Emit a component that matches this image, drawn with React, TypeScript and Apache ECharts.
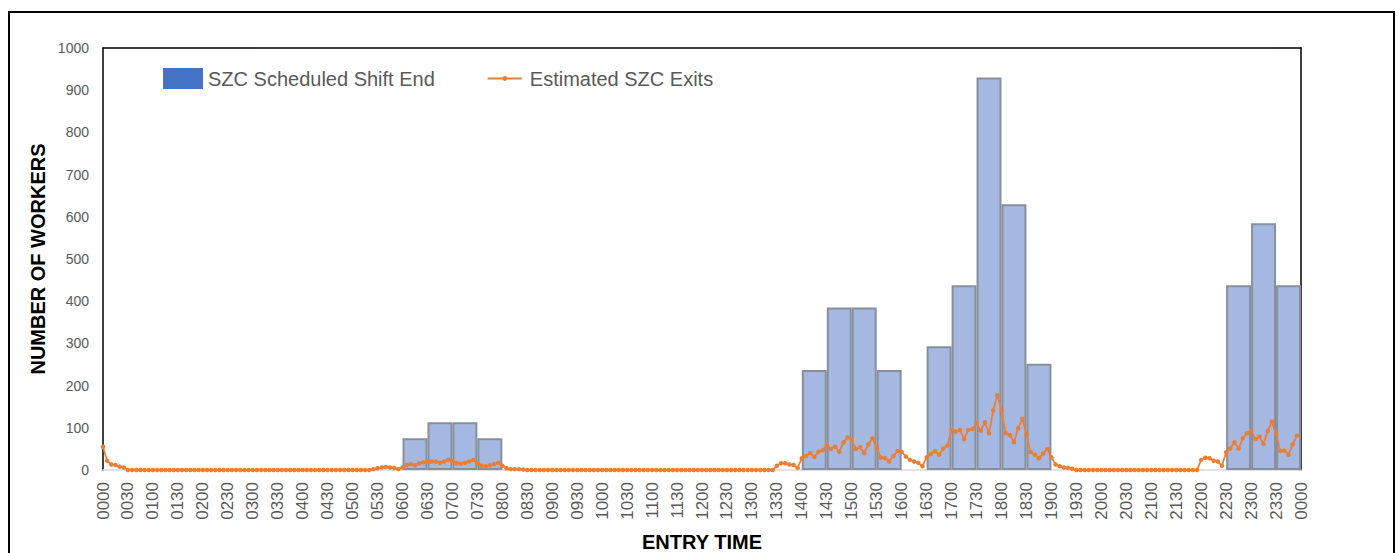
import React, { useEffect, useRef } from "react";
import * as echarts from "echarts";

const tickLabels = [
  "0000", "0030", "0100", "0130", "0200", "0230", "0300", "0330", "0400", "0430",
  "0500", "0530", "0600", "0630", "0700", "0730", "0800", "0830", "0900", "0930",
  "1000", "1030", "1100", "1130", "1200", "1230", "1300", "1330", "1400", "1430",
  "1500", "1530", "1600", "1630", "1700", "1730", "1800", "1830", "1900", "1930",
  "2000", "2030", "2100", "2130", "2200", "2230", "2300", "2330", "0000",
];

const slotLabels = tickLabels.slice(0, 48);

const scheduledShiftEnd: (number | null)[] = [
  null, null, null, null, null, null, null, null, null, null, null, null,
  75, 113, 113, 75, null, null, null, null, null, null, null, null,
  null, null, null, null, 237, 385, 385, 237, null, 293, 438, 930,
  630, 252, null, null, null, null, null, null, null, 438, 585, 438,
];

// one row per hour, 5-minute steps
const estimatedExits = [
  55, 22, 13, 12, 8, 6, 0, 0, 0, 0, 0, 0,
  0, 0, 0, 0, 0, 0, 0, 0, 0, 0, 0, 0,
  0, 0, 0, 0, 0, 0, 0, 0, 0, 0, 0, 0,
  0, 0, 0, 0, 0, 0, 0, 0, 0, 0, 0, 0,
  0, 0, 0, 0, 0, 0, 0, 0, 0, 0, 0, 0,
  0, 0, 0, 0, 0, 2, 4, 6, 7, 6, 5, 2,
  6, 12, 14, 11, 16, 18, 21, 20, 20, 17, 20, 24,
  21, 16, 15, 17, 20, 24, 17, 10, 9, 11, 14, 17,
  10, 4, 2, 2, 2, 1, 0, 0, 0, 0, 0, 0,
  0, 0, 0, 0, 0, 0, 0, 0, 0, 0, 0, 0,
  0, 0, 0, 0, 0, 0, 0, 0, 0, 0, 0, 0,
  0, 0, 0, 0, 0, 0, 0, 0, 0, 0, 0, 0,
  0, 0, 0, 0, 0, 0, 0, 0, 0, 0, 0, 0,
  0, 0, 0, 0, 0, 0, 10, 16, 16, 13, 12, 5,
  28, 33, 40, 31, 43, 47, 59, 50, 55, 43, 65, 77,
  71, 50, 54, 40, 61, 75, 53, 29, 28, 20, 33, 45,
  43, 32, 24, 20, 17, 9, 30, 38, 45, 36, 51, 58,
  95, 91, 95, 73, 95, 97, 111, 93, 113, 87, 141, 177,
  142, 87, 83, 66, 99, 121, 85, 43, 36, 28, 39, 50,
  30, 13, 9, 6, 5, 3, 0, 0, 0, 0, 0, 0,
  0, 0, 0, 0, 0, 0, 0, 0, 0, 0, 0, 0,
  0, 0, 0, 0, 0, 0, 0, 0, 0, 0, 0, 0,
  24, 29, 28, 22, 20, 10, 42, 51, 66, 51, 75, 87,
  93, 73, 79, 62, 92, 115, 85, 45, 46, 36, 61, 81,
];

const FONT = "Liberation Sans";

const LINE_LEGEND_ICON =
  "path://M0,0 M40,21 M3,9.6 L37,9.6 L37,11.4 L3,11.4 Z M17.6,10.5 A2.4,2.4 0 1 1 22.4,10.5 A2.4,2.4 0 1 1 17.6,10.5 Z";

export default function App() {
  const ref = useRef<HTMLDivElement>(null);

  useEffect(() => {
    const chart = echarts.init(ref.current as HTMLDivElement, null, { renderer: "svg" });
    chart.setOption({
      animation: false,
      backgroundColor: "#ffffff",
      textStyle: { fontFamily: FONT },
      grid: { left: 103, top: 48, right: 99, bottom: 83, containLabel: false },
      legend: {
        left: 163,
        top: 68,
        padding: 0,
        itemWidth: 40,
        itemHeight: 21,
        itemGap: 50,
        textStyle: { fontSize: 20, color: "#595959", fontFamily: FONT },
        data: [
          { name: "SZC Scheduled Shift End", icon: "rect", itemStyle: { color: "#4472c4", borderWidth: 0 } },
          { name: "Estimated SZC Exits", icon: LINE_LEGEND_ICON, itemStyle: { color: "#ed7d31", borderWidth: 0 } },
        ],
      },
      xAxis: [
        {
          type: "category",
          data: slotLabels,
          position: "top",
          boundaryGap: true,
          axisLine: { show: true, onZero: false, lineStyle: { color: "#000", width: 1.5 } },
          axisTick: { show: false },
          axisLabel: { show: false },
          splitLine: { show: false },
        },
        {
          type: "value",
          min: 0,
          max: 1440,
          interval: 30,
          position: "bottom",
          axisLine: { show: true, onZero: false, lineStyle: { color: "#d9d9d9", width: 1.5 } },
          axisTick: { show: false },
          splitLine: { show: false },
          axisLabel: {
            rotate: 90,
            fontSize: 17,
            color: "#595959",
            margin: 12,
            fontFamily: FONT,
            showMinLabel: true,
            showMaxLabel: true,
            formatter: (v: number) => tickLabels[Math.round(v / 30)] ?? "",
          },
        },
      ],
      yAxis: [
        {
          type: "value",
          min: 0,
          max: 1000,
          interval: 100,
          position: "left",
          axisLine: { show: true, onZero: false, lineStyle: { color: "#000", width: 1.5 } },
          axisTick: { show: false },
          splitLine: { show: false },
          axisLabel: {
            fontSize: 14,
            color: "#595959",
            margin: 14,
            fontFamily: FONT,
            formatter: (v: number) => String(v),
          },
        },
        {
          type: "value",
          min: 0,
          max: 1000,
          interval: 100,
          position: "right",
          axisLine: { show: true, onZero: false, lineStyle: { color: "#000", width: 1.5 } },
          axisTick: { show: false },
          splitLine: { show: false },
          axisLabel: { show: false },
        },
      ],
      series: [
        {
          type: "bar",
          name: "SZC Scheduled Shift End",
          xAxisIndex: 0,
          yAxisIndex: 0,
          data: scheduledShiftEnd,
          barCategoryGap: "0%",
          barGap: "0%",
          itemStyle: { color: "#a4b8e1", borderColor: "#878f9d", borderWidth: 2 },
        },
        {
          type: "line",
          name: "Estimated SZC Exits",
          xAxisIndex: 1,
          yAxisIndex: 0,
          data: estimatedExits.map((v, i) => [i * 5, v]),
          symbol: "circle",
          symbolSize: 4.5,
          showAllSymbol: true,
          lineStyle: { color: "#ed7d31", width: 1.75 },
          itemStyle: { color: "#ed7d31" },
        },
      ],
      graphic: [
        {
          type: "rect",
          silent: true,
          shape: { x: 9, y: 12, width: 1385, height: 600 },
          style: { fill: "none", stroke: "#000", lineWidth: 2 },
        },
        {
          type: "text",
          x: 38,
          y: 259,
          rotation: Math.PI / 2,
          style: {
            text: "NUMBER OF WORKERS",
            fontFamily: FONT,
            fontWeight: "bold",
            fontSize: 20,
            fill: "#000",
            align: "center",
            verticalAlign: "middle",
          },
        },
        {
          type: "text",
          x: 702,
          y: 542,
          style: {
            text: "ENTRY TIME",
            fontFamily: FONT,
            fontWeight: "bold",
            fontSize: 20,
            fill: "#000",
            align: "center",
            verticalAlign: "middle",
          },
        },
      ],
    });
    return () => chart.dispose();
  }, []);

  return (
    <div
      ref={ref}
      style={{ position: "fixed", left: 0, top: 0, width: 1400, height: 553, background: "#fff" }}
    />
  );
}
